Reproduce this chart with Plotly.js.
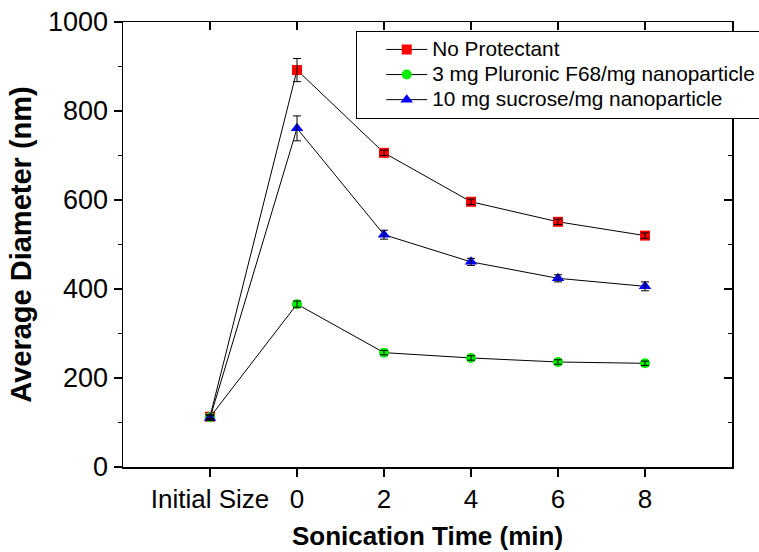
<!DOCTYPE html>
<html>
<head>
<meta charset="utf-8">
<script src="https://cdn.plot.ly/plotly-3.0.1.min.js"></script>
<style>html,body{margin:0;padding:0;background:#fff;}#chart{width:759px;height:552px;}</style>
</head>
<body>
<div id="chart"></div>
<script>
// ---- data ----
const categories = ["Initial Size", "0", "2", "4", "6", "8"];
const noProtectant = [113, 892, 706, 596, 551, 520];
const noProtectantErr = [4, 26, 6, 6, 6, 6];
const pluronic = [112, 366, 257, 245, 236, 233];
const pluronicErr = [5, 7, 5, 5, 5, 5];
const sucrose = [110, 761, 522, 461, 424, 406];
const sucroseErr = [5, 28, 10, 8, 8, 10];
const seriesNames = ["No Protectant", "3 mg Pluronic F68/mg nanoparticle", "10 mg sucrose/mg nanoparticle"];
const yTicks = [0, 200, 400, 600, 800, 1000];
const frameTickPositions = [0, 1, 2, 3, 4, 5]; // category indices for the top frame ticks

const FONT = "Liberation Sans, Arial, sans-serif";

function mainTrace(y, name, symbol, color, size) {
  return {
    x: categories, y: y, name: '<span style="font-size:20.8px">' + name + '</span>',
    type: "scatter", mode: "lines+markers",
    line: {color: "#000", width: 1},
    marker: {symbol: symbol, color: color, size: size, line: {width: 0}},
    xaxis: "x", yaxis: "y"
  };
}
function errTrace(y, err) {
  return {
    x: categories, y: y, type: "scatter", mode: "markers", showlegend: false, hoverinfo: "skip",
    marker: {color: "rgba(0,0,0,0)", size: 1},
    error_y: {type: "data", array: err, visible: true, color: "#000", thickness: 1, width: 4},
    xaxis: "x", yaxis: "y"
  };
}

const data = [
  mainTrace(noProtectant, seriesNames[0], "square", "#ff0000", 10),
  mainTrace(pluronic, seriesNames[1], "circle", "#00ee00", 10),
  mainTrace(sucrose, seriesNames[2], "triangle-up", "#0000ff", 11),
  errTrace(noProtectant, noProtectantErr),
  errTrace(pluronic, pluronicErr),
  errTrace(sucrose, sucroseErr),
  // invisible helper so the mirrored frame axes (top / right) get drawn
  {x: [frameTickPositions[0]], y: [yTicks[0]], type: "scatter", mode: "markers", showlegend: false,
   hoverinfo: "skip", marker: {color: "rgba(0,0,0,0)", size: 1}, xaxis: "x2", yaxis: "y2"}
];

const layout = {
  width: 759, height: 552,
  margin: {l: 123, r: 27, t: 22, b: 85, autoexpand: false},
  paper_bgcolor: "#fff", plot_bgcolor: "#fff",
  font: {family: FONT, color: "#000"},
  showlegend: true,
  legend: {
    x: 0.383, y: 0.98, xanchor: "left", yanchor: "top",
    bgcolor: "#fff", bordercolor: "#000", borderwidth: 1,
    font: {family: FONT, size: 17, color: "#000"},
    itemwidth: 41, indentation: 24, tracegroupgap: 0
  },
  xaxis: {
    type: "category", range: [-1, 6],
    showline: true, linecolor: "#000", linewidth: 1.5, mirror: false,
    ticks: "outside", ticklen: 8, tickwidth: 1.5, tickcolor: "#000",
    showgrid: false, zeroline: false,
    tickfont: {family: FONT, size: 26, color: "#000"},
    title: {text: "<b>Sonication Time (min)</b>", font: {family: FONT, size: 26, color: "#000"}, standoff: 14}
  },
  yaxis: {
    range: [0, 1000], tickvals: yTicks,
    showline: true, linecolor: "#000", linewidth: 1.5, mirror: false,
    ticks: "outside", ticklen: 8, tickwidth: 1.5, tickcolor: "#000",
    minor: {dtick: 100, ticks: "outside", ticklen: 4, tickwidth: 1.5, tickcolor: "#000", showgrid: false},
    showgrid: false, zeroline: false,
    tickfont: {family: FONT, size: 27, color: "#000"},
    title: {text: "<b>Average Diameter (nm)</b>", font: {family: FONT, size: 29, color: "#000"}, standoff: 8}
  },
  xaxis2: {
    overlaying: "x", side: "top", anchor: "y", range: [-1, 6],
    tickvals: frameTickPositions, showticklabels: false,
    showline: true, linecolor: "#000", linewidth: 1.5,
    ticks: "inside", ticklen: 8, tickwidth: 1.5, tickcolor: "#000",
    showgrid: false, zeroline: false
  },
  yaxis2: {
    overlaying: "y", side: "right", anchor: "x", range: [0, 1000],
    tickvals: yTicks, showticklabels: false,
    showline: true, linecolor: "#000", linewidth: 1.5,
    ticks: "inside", ticklen: 8, tickwidth: 1.5, tickcolor: "#000",
    minor: {dtick: 100, ticks: "inside", ticklen: 4, tickwidth: 1.5, tickcolor: "#000", showgrid: false},
    showgrid: false, zeroline: false
  }
};

Plotly.newPlot("chart", data, layout, {staticPlot: true, displayModeBar: false});
</script>
</body>
</html>
